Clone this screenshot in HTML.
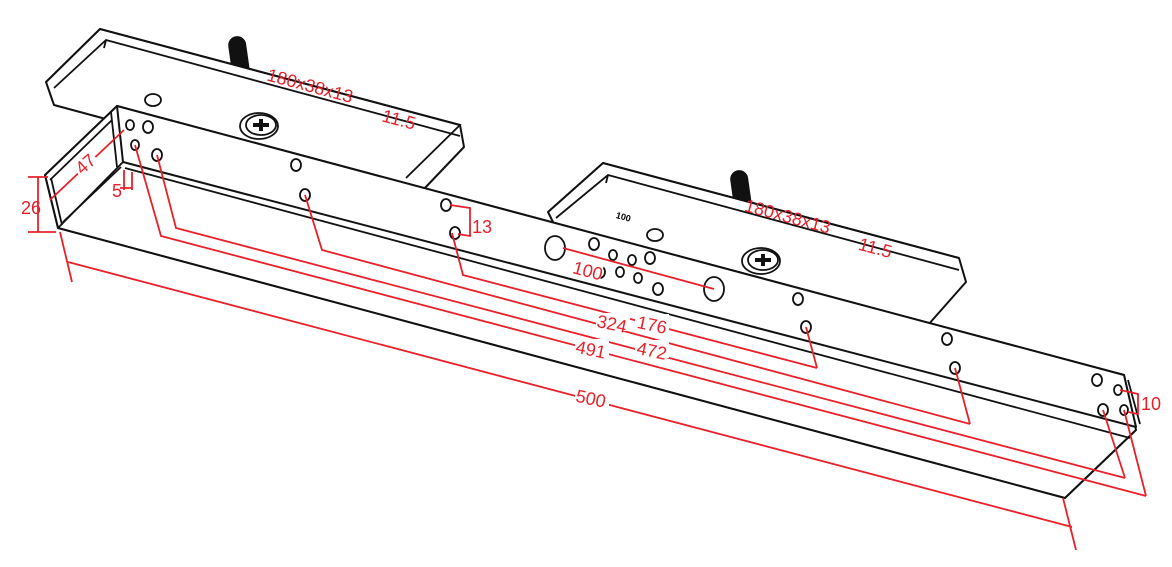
<!DOCTYPE html>
<html><head><meta charset="utf-8"><style>
html,body{margin:0;padding:0;background:#fff;width:1172px;height:567px;overflow:hidden}
svg{display:block}
.k{fill:#fff;stroke:#111;stroke-width:2;stroke-linejoin:round}
.l{fill:none;stroke:#111;stroke-width:1.8}
.h{fill:#fff;stroke:#111;stroke-width:1.8}
.r{fill:none;stroke:#e8202a;stroke-width:1.8}
.t{fill:#e8202a;font-family:"Liberation Sans",sans-serif;font-size:18px}
</style></head><body>
<svg width="1172" height="567" viewBox="0 0 1172 567">
<!-- left upper block -->
<rect x="230" y="36" width="18" height="42" rx="9" fill="#111" transform="rotate(-8 239 58)"/>
<polygon class="k" points="100,29 460,125 464,147 423,190 117,122 54,105 46,82"/>
<polyline class="l" points="46,82 100,29 460,125 406,178"/>
<polyline class="l" points="54,88 106,40 460,136"/>
<line class="l" x1="106" y1="40" x2="104" y2="48"/>
<ellipse class="h" cx="153" cy="100" rx="8" ry="6"/>
<!-- right upper block -->
<rect x="732" y="170" width="18" height="42" rx="9" fill="#111" transform="rotate(-8 741 192)"/>
<polygon class="k" points="603,163 959,258 966,282 928,325 560,240 553,222 548,212"/>
<polyline class="l" points="548,212 603,163 959,258"/>
<polyline class="l" points="556,218 608,175 959,270"/>
<line class="l" x1="608" y1="175" x2="606" y2="183"/>
<ellipse class="h" cx="655" cy="235" rx="8" ry="6"/>
<text x="616" y="219" font-family="Liberation Sans,sans-serif" font-size="9" font-weight="bold" transform="rotate(15 620 216)">100</text>
<!-- bottom plate -->
<polygon class="k" points="117,106 1124,375 1136,430 1065,498 58,228 45,175"/>
<polyline class="l" points="45,175 117,106"/>
<polyline class="l" points="50,180 112,120"/>
<polyline class="l" points="45,175 58,228"/>
<polyline class="l" points="51,178 62,225"/>
<polyline class="l" points="58,228 123,162"/>
<polyline class="l" points="63,222 121,167"/>
<polyline class="l" points="58,228 1065,498 1136,430"/>
<!-- vertical plate front face -->
<polygon class="k" points="117,106 1124,375 1136,427 123,162"/>
<line class="l" x1="111" y1="112" x2="117" y2="167"/>
<line class="l" x1="125" y1="168" x2="1130" y2="438"/>
<line class="l" x1="1128" y1="380" x2="1140" y2="424"/>
<!-- holes -->
<g class="h">
<ellipse cx="130" cy="125" rx="4" ry="5"/><ellipse cx="148" cy="127" rx="5" ry="6"/>
<ellipse cx="135" cy="145" rx="4" ry="5"/><ellipse cx="157" cy="155" rx="5" ry="6"/>
<ellipse cx="296" cy="165" rx="5" ry="6"/><ellipse cx="305" cy="195" rx="5" ry="6"/>
<ellipse cx="446" cy="205" rx="5" ry="6"/><ellipse cx="455" cy="233" rx="5" ry="6"/>
<ellipse cx="555" cy="248" rx="10" ry="12"/><ellipse cx="714" cy="289" rx="10" ry="12"/>
<ellipse cx="594" cy="244" rx="5" ry="6"/><ellipse cx="613" cy="255" rx="4" ry="5"/>
<ellipse cx="632" cy="260" rx="4" ry="5"/><ellipse cx="650" cy="258" rx="5" ry="6"/>
<ellipse cx="600" cy="272" rx="5" ry="6"/><ellipse cx="620" cy="272" rx="4" ry="5"/>
<ellipse cx="638" cy="278" rx="4" ry="5"/><ellipse cx="658" cy="289" rx="5" ry="6"/>
<ellipse cx="798" cy="299" rx="5" ry="6"/><ellipse cx="806" cy="327" rx="5" ry="6"/>
<ellipse cx="947" cy="339" rx="5" ry="6"/><ellipse cx="955" cy="368" rx="5" ry="6"/>
<ellipse cx="1097" cy="380" rx="5" ry="6"/><ellipse cx="1118" cy="390" rx="4" ry="5"/>
<ellipse cx="1103" cy="410" rx="5" ry="6"/><ellipse cx="1124" cy="410" rx="4" ry="5"/>
</g>
<!-- screws -->
<g><ellipse class="h" cx="259" cy="126" rx="19" ry="13"/><ellipse class="h" cx="261" cy="125" rx="15" ry="10"/>
<path d="M253 125h16M261 119v12" stroke="#111" stroke-width="4"/></g>
<g><ellipse class="h" cx="761" cy="261" rx="19" ry="13"/><ellipse class="h" cx="763" cy="260" rx="15" ry="10"/>
<path d="M755 260h16M763 254v12" stroke="#111" stroke-width="4"/></g>
<!-- red dims -->
<g class="r">
<path d="M452 233L463 275L817 368M806 327L817 368"/>
<path d="M305 195L322 250L970 424M955 368L970 424"/>
<path d="M157 155L176 228L1125 478M1103 410L1125 478"/>
<path d="M135 145L161 236L1146 496M1124 410L1146 496"/>
<path d="M60 232L72 282M68 262L1072 527M1063 498L1076 550"/>
<path d="M563 248L714 289"/>
<path d="M450 205L470 208L470 236L458 234"/>
<path d="M1120 390L1138 394L1138 414L1128 412"/>
<path d="M28 177H48M28 232H56M38 177V232"/>
<path d="M50 200L124 130"/>
<path d="M120 188L132 188M124 170V190M132 172V190"/>
</g>
<g class="t">
<rect x="573" y="258" width="30" height="18" fill="#fff" stroke="none" transform="rotate(15 588 267)"/>
<text x="573" y="277" transform="rotate(15 588 270)" fill="#e8202a">100</text>
<rect x="635" y="314" width="34" height="18" fill="#fff"/><text x="637" y="331" transform="rotate(12 652 325)">176</text>
<rect x="596" y="313" width="34" height="18" fill="#fff"/><text x="597" y="330" transform="rotate(12 612 323)">324</text>
<rect x="635" y="340" width="34" height="18" fill="#fff"/><text x="637" y="357" transform="rotate(12 652 350)">472</text>
<rect x="575" y="339" width="34" height="18" fill="#fff"/><text x="576" y="356" transform="rotate(12 592 349)">491</text>
<rect x="575" y="388" width="34" height="18" fill="#fff"/><text x="576" y="405" transform="rotate(12 592 398)">500</text>
<text x="472" y="233">13</text>
<text x="1141" y="410">10</text>
<text x="21" y="214">26</text>
<text x="112" y="197">5</text>
<rect x="72" y="152" width="24" height="18" fill="#fff" transform="rotate(-42 85 162)"/>
<text x="74" y="170" transform="rotate(-42 85 162)">47</text>
<text x="265" y="92" transform="rotate(15 310 90)">180x38x13</text>
<text x="382" y="126" transform="rotate(15 400 120)">11.5</text>
<text x="742" y="222" transform="rotate(15 785 222)">180x38x13</text>
<text x="858" y="254" transform="rotate(15 875 250)">11.5</text>
</g>
</svg>
</body></html>
